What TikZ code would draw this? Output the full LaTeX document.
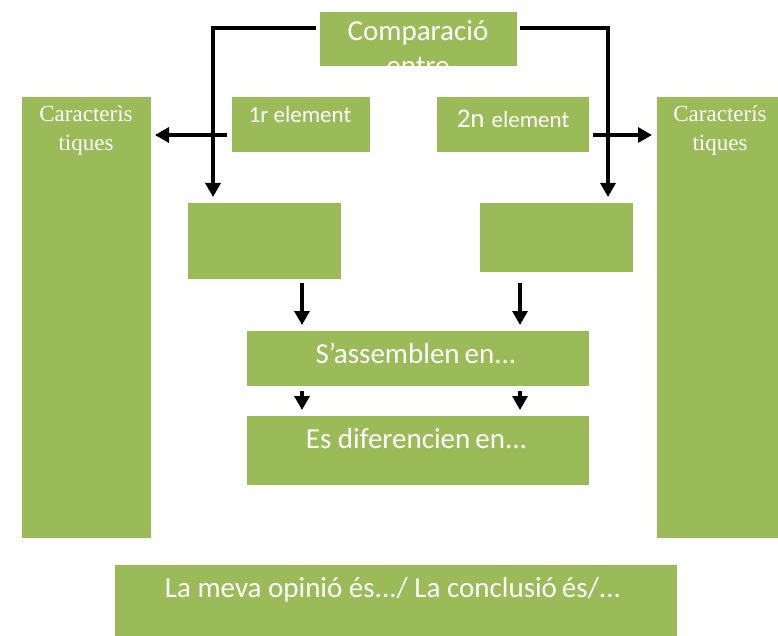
\documentclass[tikz,border=0pt]{standalone}
\usepackage{fontspec}
\setmainfont{Carlito}
\newfontfamily\serifb{Liberation Serif}
\usetikzlibrary{arrows.meta}
\definecolor{boxgreen}{HTML}{9BBB59}
\begin{document}
\begin{tikzpicture}[x=1pt,y=-1pt,
  gbox/.style={fill=boxgreen, draw=none, inner sep=0pt, outer sep=0pt},
  wtext/.style={text=white, inner sep=0pt, anchor=base},
  big/.style={font=\fontsize{29}{35}\selectfont},
  mid/.style={font=\fontsize{23}{28}\selectfont},
  serif/.style={font=\serifb\fontsize{23}{30}\selectfont},
  conn/.style={line width=3.2pt, -{Triangle[width=15pt,length=14pt]}},
  ]
\useasboundingbox (0,0) rectangle (778,636);
% boxes
\node[gbox, minimum width=197pt, minimum height=54pt] (comp) at (418.5,39) {};
\node[gbox, minimum width=138pt, minimum height=55pt] (e1) at (301,124.5) {};
\node[gbox, minimum width=152pt, minimum height=55pt] (e2) at (513,124.5) {};
\node[gbox, minimum width=129pt, minimum height=441pt] (carL) at (86.5,317.5) {};
\node[gbox, minimum width=121pt, minimum height=441pt] (carR) at (717.5,317.5) {};
\node[gbox, minimum width=153pt, minimum height=76pt] (m1) at (264.5,241) {};
\node[gbox, minimum width=153pt, minimum height=69pt] (m2) at (556.5,237.5) {};
\node[gbox, minimum width=342pt, minimum height=55pt] (ass) at (418,358.5) {};
\node[gbox, minimum width=342pt, minimum height=69pt] (dif) at (418,450.5) {};
\node[gbox, minimum width=562pt, minimum height=71pt] (concl) at (396,600.5) {};
% texts
\begin{scope}
\clip (comp.south west) rectangle (comp.north east);
\node[wtext, big] (tcomp1) at (418,41) {Comparació};
\node[wtext, big] (tcomp2) at (418,76) {entre};
\end{scope}
\node[wtext, mid] (te1) at (300,123) {1r element};
\node[wtext] (te2) at (513,128) {\fontsize{27}{32}\selectfont 2n\hspace{7pt}\fontsize{23}{28}\selectfont element};
\node[wtext, serif] (tcl1) at (86,122) {Caracterìs};
\node[wtext, serif] (tcl2) at (86,151) {tiques};
\node[wtext, serif] (tcr1) at (720,122) {Caracterís};
\node[wtext, serif] (tcr2) at (720,151) {tiques};
\node[wtext, big] (tass) at (416,363) {S’assemblen\hspace{5pt}en...};
\node[wtext, big] (tdif) at (416.5,448) {Es diferencien\hspace{5pt}en...};
\node[wtext, big] (tconcl) at (393,597) {La meva opinió és.../ La conclusió\hspace{5pt}és/...};
% connectors
\coordinate (sl) at ([shift={(-4,-11)}]comp.west);
\coordinate (el) at ([shift={(25,-6)}]m1.north west);
\draw[conn] (sl) -| (el);
\coordinate (sr) at ([shift={(3,-11)}]comp.east);
\coordinate (er) at ([shift={(-25,-6)}]m2.north east);
\draw[conn] (sr) -| (er);
\coordinate (hl) at ([shift={(-5,10.5)}]e1.west);
\draw[conn, shorten >=4pt] (hl) -- (hl -| carL.east);
\coordinate (hr) at ([shift={(4,10.5)}]e2.east);
\draw[conn, shorten >=5pt] (hr) -- (hr -| carR.west);
\coordinate (cl) at ([xshift=37.5]m1.south);
\coordinate (cr) at ([xshift=-36.5]m2.south);
\draw[conn, shorten <=4pt, shorten >=6pt] (cl) -- (cl |- ass.north);
\draw[conn, shorten <=11pt, shorten >=6pt] (cr) -- (cr |- ass.north);
\draw[conn, shorten <=5pt, shorten >=6pt] (cl |- ass.south) -- (cl |- dif.north);
\draw[conn, shorten <=5pt, shorten >=6pt] (cr |- ass.south) -- (cr |- dif.north);
\end{tikzpicture}
\end{document}
